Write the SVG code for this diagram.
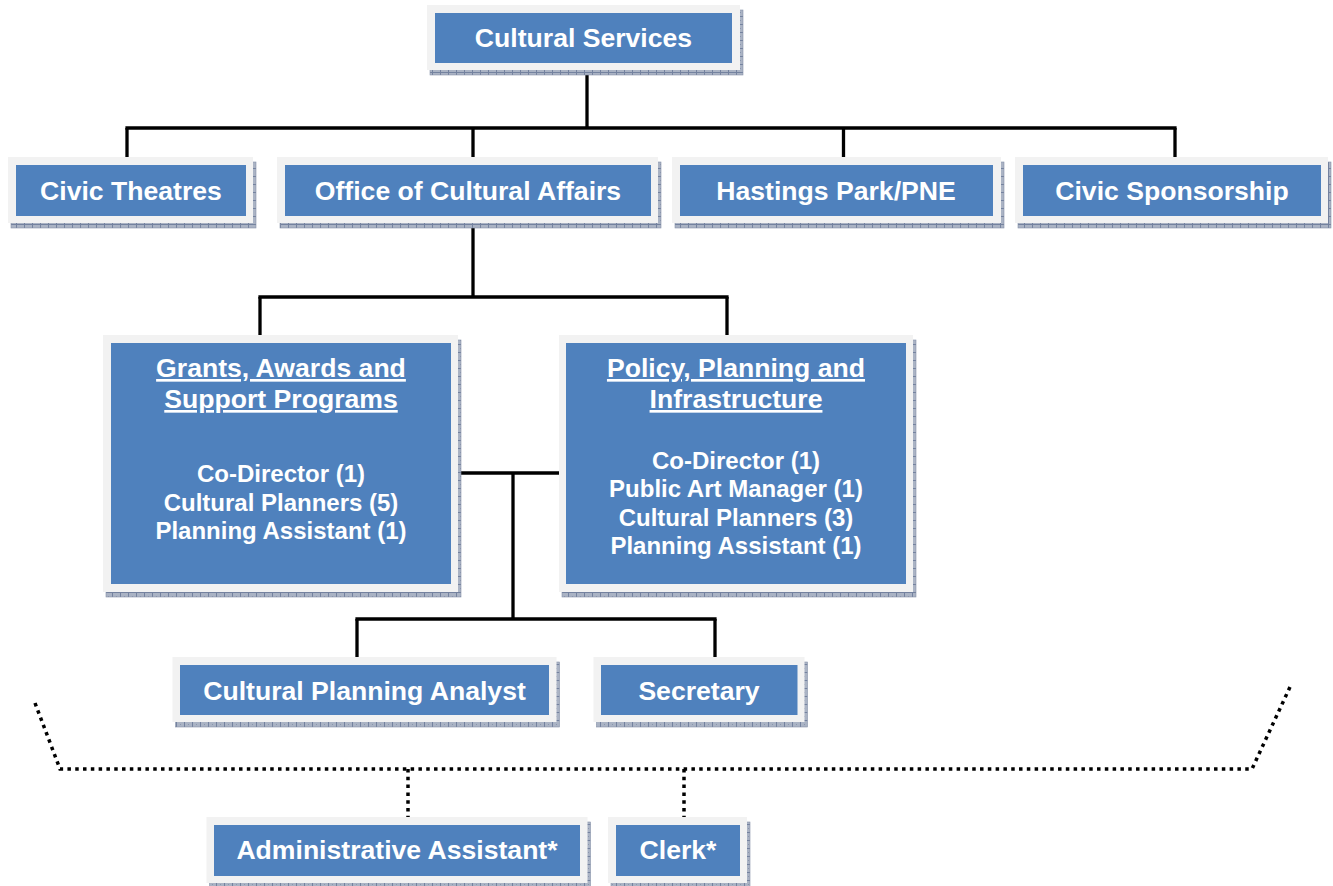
<svg xmlns="http://www.w3.org/2000/svg" width="1333" height="886" viewBox="0 0 1333 886">
  <style>
    .shadow { fill: url(#hatch); stroke: #8591a9; stroke-width: 0.6; }
    .frame { fill: #f2f2f2; }
    .fill { fill: #4f81bd; }
    .label { font-family: "Liberation Sans", Arial, sans-serif; font-weight: bold; font-size: 26.6px; fill: #ffffff; text-anchor: middle; }
    .staff { font-size: 24px; }
    .head { text-decoration: underline; }
    .solid { fill: none; stroke: #000000; stroke-width: 3.3; }
    .dotted { fill: none; stroke: #000000; stroke-width: 3.5; stroke-dasharray: 3.5 4.3; }
  </style>
  <defs>
    <!-- fine textured drop-shadow fill -->
    <pattern id="hatch" patternUnits="userSpaceOnUse" width="8" height="8">
      <rect width="8" height="8" fill="#aab3c4"/>
      <rect x="0" y="0" width="1" height="8" fill="#74829f"/>
      <rect x="0" y="0" width="8" height="1" fill="#74829f"/>
      <rect x="4" y="4" width="1" height="1" fill="#8a96ae"/>
    </pattern>
  </defs>

  <!-- reporting lines -->
  <g id="connectors">
    <path class="solid" d="M587 70 V128"/>
    <path class="solid" d="M125.4 128 H1176.6"/>
    <path class="solid" d="M127 128 V157 M473 128 V157 M843.5 128 V157 M1175 128 V157"/>
    <path class="solid" d="M473 223 V297"/>
    <path class="solid" d="M258.4 297 H728.6"/>
    <path class="solid" d="M260 297 V335 M727 297 V335"/>
    <path class="solid" d="M458 473 H562"/>
    <path class="solid" d="M513 473 V619"/>
    <path class="solid" d="M355.4 619 H716.6"/>
    <path class="solid" d="M357 619 V657 M715 619 V657"/>
    <path class="dotted" d="M35 703 L60 769 H1252 L1290 687"/>
    <path class="dotted" d="M408 769 V817 M684 769 V817"/>
  </g>

  <g id="cultural-services">
    <rect class="shadow" x="430" y="10" width="313" height="65"/>
    <rect class="frame" x="427" y="5" width="313" height="65"/>
    <rect class="fill" x="435" y="13" width="297" height="50"/>
    <text class="label" x="583.5" y="47">Cultural Services</text>
  </g>

  <g id="civic-theatres">
    <rect class="shadow" x="11" y="162" width="245" height="66"/>
    <rect class="frame" x="8" y="157" width="245" height="66"/>
    <rect class="fill" x="16" y="165" width="230" height="51"/>
    <text class="label" x="131" y="199.5">Civic Theatres</text>
  </g>

  <g id="office-of-cultural-affairs">
    <rect class="shadow" x="280" y="162" width="381" height="66"/>
    <rect class="frame" x="277" y="157" width="381" height="66"/>
    <rect class="fill" x="285" y="165" width="366" height="51"/>
    <text class="label" x="468" y="199.5">Office of Cultural Affairs</text>
  </g>

  <g id="hastings-park">
    <rect class="shadow" x="675" y="162" width="329" height="66"/>
    <rect class="frame" x="672" y="157" width="329" height="66"/>
    <rect class="fill" x="680" y="165" width="313" height="51"/>
    <text class="label" x="836" y="199.5">Hastings Park/PNE</text>
  </g>

  <g id="civic-sponsorship">
    <rect class="shadow" x="1018" y="162" width="313" height="66"/>
    <rect class="frame" x="1015" y="157" width="313" height="66"/>
    <rect class="fill" x="1023" y="165" width="298" height="51"/>
    <text class="label" x="1172" y="199.5">Civic Sponsorship</text>
  </g>

  <g id="grants-awards">
    <rect class="shadow" x="106" y="340" width="355" height="257"/>
    <rect class="frame" x="103" y="335" width="355" height="257"/>
    <rect class="fill" x="111" y="343" width="340" height="241"/>
    <text class="label head" x="281" y="377">Grants, Awards and</text>
    <text class="label head" x="281" y="408">Support Programs</text>
    <text class="label staff" x="281" y="482">Co-Director (1)</text>
    <text class="label staff" x="281" y="510.5">Cultural Planners (5)</text>
    <text class="label staff" x="281" y="539">Planning Assistant (1)</text>
  </g>

  <g id="policy-planning">
    <rect class="shadow" x="562" y="340" width="354" height="257"/>
    <rect class="frame" x="559" y="335" width="354" height="257"/>
    <rect class="fill" x="566" y="343" width="340" height="241"/>
    <text class="label head" x="736" y="377">Policy, Planning and</text>
    <text class="label head" x="736" y="408">Infrastructure</text>
    <text class="label staff" x="736" y="468.5">Co-Director (1)</text>
    <text class="label staff" x="736" y="497">Public Art Manager (1)</text>
    <text class="label staff" x="736" y="525.5">Cultural Planners (3)</text>
    <text class="label staff" x="736" y="553.5">Planning Assistant (1)</text>
  </g>

  <g id="cultural-planning-analyst">
    <rect class="shadow" x="175.5" y="662" width="384" height="65"/>
    <rect class="frame" x="172.5" y="657" width="384" height="65"/>
    <rect class="fill" x="180" y="665" width="369" height="50"/>
    <text class="label" x="364.5" y="699.5">Cultural Planning Analyst</text>
  </g>

  <g id="secretary">
    <rect class="shadow" x="596.5" y="662" width="211" height="65"/>
    <rect class="frame" x="593.5" y="657" width="211" height="65"/>
    <rect class="fill" x="601" y="665" width="196.5" height="50"/>
    <text class="label" x="699" y="699.5">Secretary</text>
  </g>

  <g id="administrative-assistant">
    <rect class="shadow" x="209.5" y="822" width="381" height="66"/>
    <rect class="frame" x="206.5" y="817" width="381" height="66"/>
    <rect class="fill" x="214" y="825" width="366" height="51"/>
    <text class="label" x="397" y="859">Administrative Assistant*</text>
  </g>

  <g id="clerk">
    <rect class="shadow" x="611" y="822" width="139" height="66"/>
    <rect class="frame" x="608" y="817" width="139" height="66"/>
    <rect class="fill" x="616" y="825" width="124" height="51"/>
    <text class="label" x="678" y="859">Clerk*</text>
  </g>
</svg>
